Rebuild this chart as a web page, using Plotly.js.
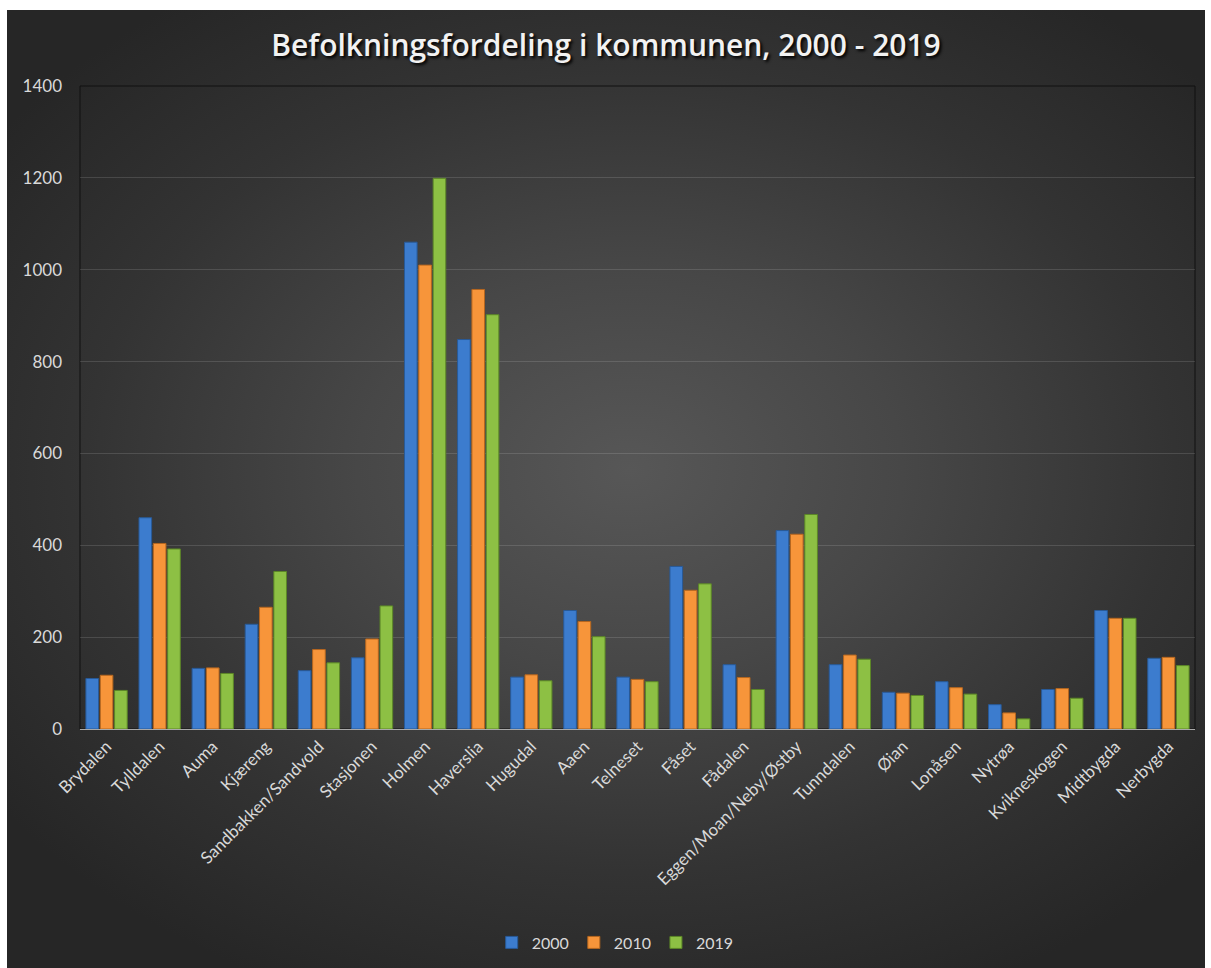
<!DOCTYPE html>
<html>
<head>
<meta charset="utf-8">
<script src="https://cdn.plot.ly/plotly-3.0.1.min.js"></script>
<style>
  html, body { margin: 0; padding: 0; background: #ffffff; }
  #wrap {
    position: absolute; left: 7px; top: 10px; width: 1198px; height: 958px;
    background: radial-gradient(ellipse 65% 60% at 52% 48%, #575757 0%, #474747 35%, #333333 70%, #262626 100%);
  }
  #chart { width: 1198px; height: 958px; }
</style>
</head>
<body>
<div id="wrap"><div id="chart"></div></div>
<script>
const categories = ["Brydalen", "Tylldalen", "Auma", "Kjæreng", "Sandbakken/Sandvold", "Stasjonen", "Holmen", "Haverslia", "Hugudal", "Aaen", "Telneset", "Fåset", "Fådalen", "Eggen/Moan/Neby/Østby", "Tunndalen", "Øian", "Lonåsen", "Nytrøa", "Kvikneskogen", "Midtbygda", "Nerbygda"];
const series2000 = [110, 460, 132, 228, 127, 155, 1060, 848, 113, 258, 113, 354, 140, 432, 140, 80, 103, 53, 86, 258, 154];
const series2010 = [117, 404, 133, 265, 173, 196, 1010, 957, 118, 234, 108, 302, 112, 424, 161, 78, 90, 35, 88, 241, 156];
const series2019 = [84, 392, 121, 343, 144, 268, 1199, 902, 105, 201, 103, 316, 86, 467, 152, 73, 76, 22, 67, 241, 138];
const seriesNames = ["2000", "2010", "2019"];
const yTicks = [0, 200, 400, 600, 800, 1000, 1200, 1400];

const colors = ["#3c7cce", "#f7953a", "#8dc044"];
const lineColors = ["#285a98", "#b5661f", "#5c8727"];
const allSeries = [series2000, series2010, series2019];

const traces = allSeries.map((vals, i) => ({
  type: "bar",
  name: seriesNames[i],
  x: categories,
  y: vals,
  marker: { color: colors[i], line: { color: lineColors[i], width: 1 } },
  hoverinfo: "x+y+name"
}));

const fontFam = "Lato, 'Open Sans', sans-serif";

const layout = {
  width: 1198, height: 958,
  paper_bgcolor: "rgba(0,0,0,0)",
  plot_bgcolor: "rgba(0,0,0,0)",
  margin: { l: 73, r: 10, t: 76, b: 238 },
  barmode: "group",
  bargap: 0.19,
  bargroupgap: 0.12,
  title: {
    text: "Befolkningsfordeling i kommunen, 2000 - 2019",
    x: 0.5, xanchor: "center", xref: "container",
    y: 0.963, yanchor: "middle", yref: "container",
    font: { family: "'Open Sans', sans-serif", size: 30, color: "#f2f2f2", weight: 600, shadow: "2px 2px 3px #000000" }
  },
  xaxis: {
    type: "category",
    tickangle: -45,
    tickfont: { family: fontFam, size: 17, color: "#d9d9d9" },
    showgrid: false,
    showline: true, linecolor: "#a9a9a9", linewidth: 1,
    ticks: "", zeroline: false
  },
  yaxis: {
    range: [0, 1400],
    tickvals: yTicks,
    ticktext: yTicks.map(String),
    tickfont: { family: fontFam, size: 17, color: "#d9d9d9" },
    showgrid: true, gridcolor: "rgba(255,255,255,0.13)", gridwidth: 1,
    zeroline: false, showline: false,
    ticks: "", ticklabelstandoff: 17
  },
  shapes: [
    { type: "rect", xref: "paper", yref: "paper", x0: 0, x1: 1, y0: 0, y1: 1,
      line: { color: "#111111", width: 1 }, fillcolor: "rgba(0,0,0,0)", layer: "below" }
  ],
  legend: {
    orientation: "h",
    x: 0.48, xanchor: "center",
    y: -0.33, yanchor: "middle",
    font: { family: fontFam, size: 16, color: "#d9d9d9" },
    itemwidth: 30,
    traceorder: "normal"
  },
  showlegend: true
};

Plotly.newPlot("chart", traces, layout, { displayModeBar: false });
</script>
</body>
</html>
